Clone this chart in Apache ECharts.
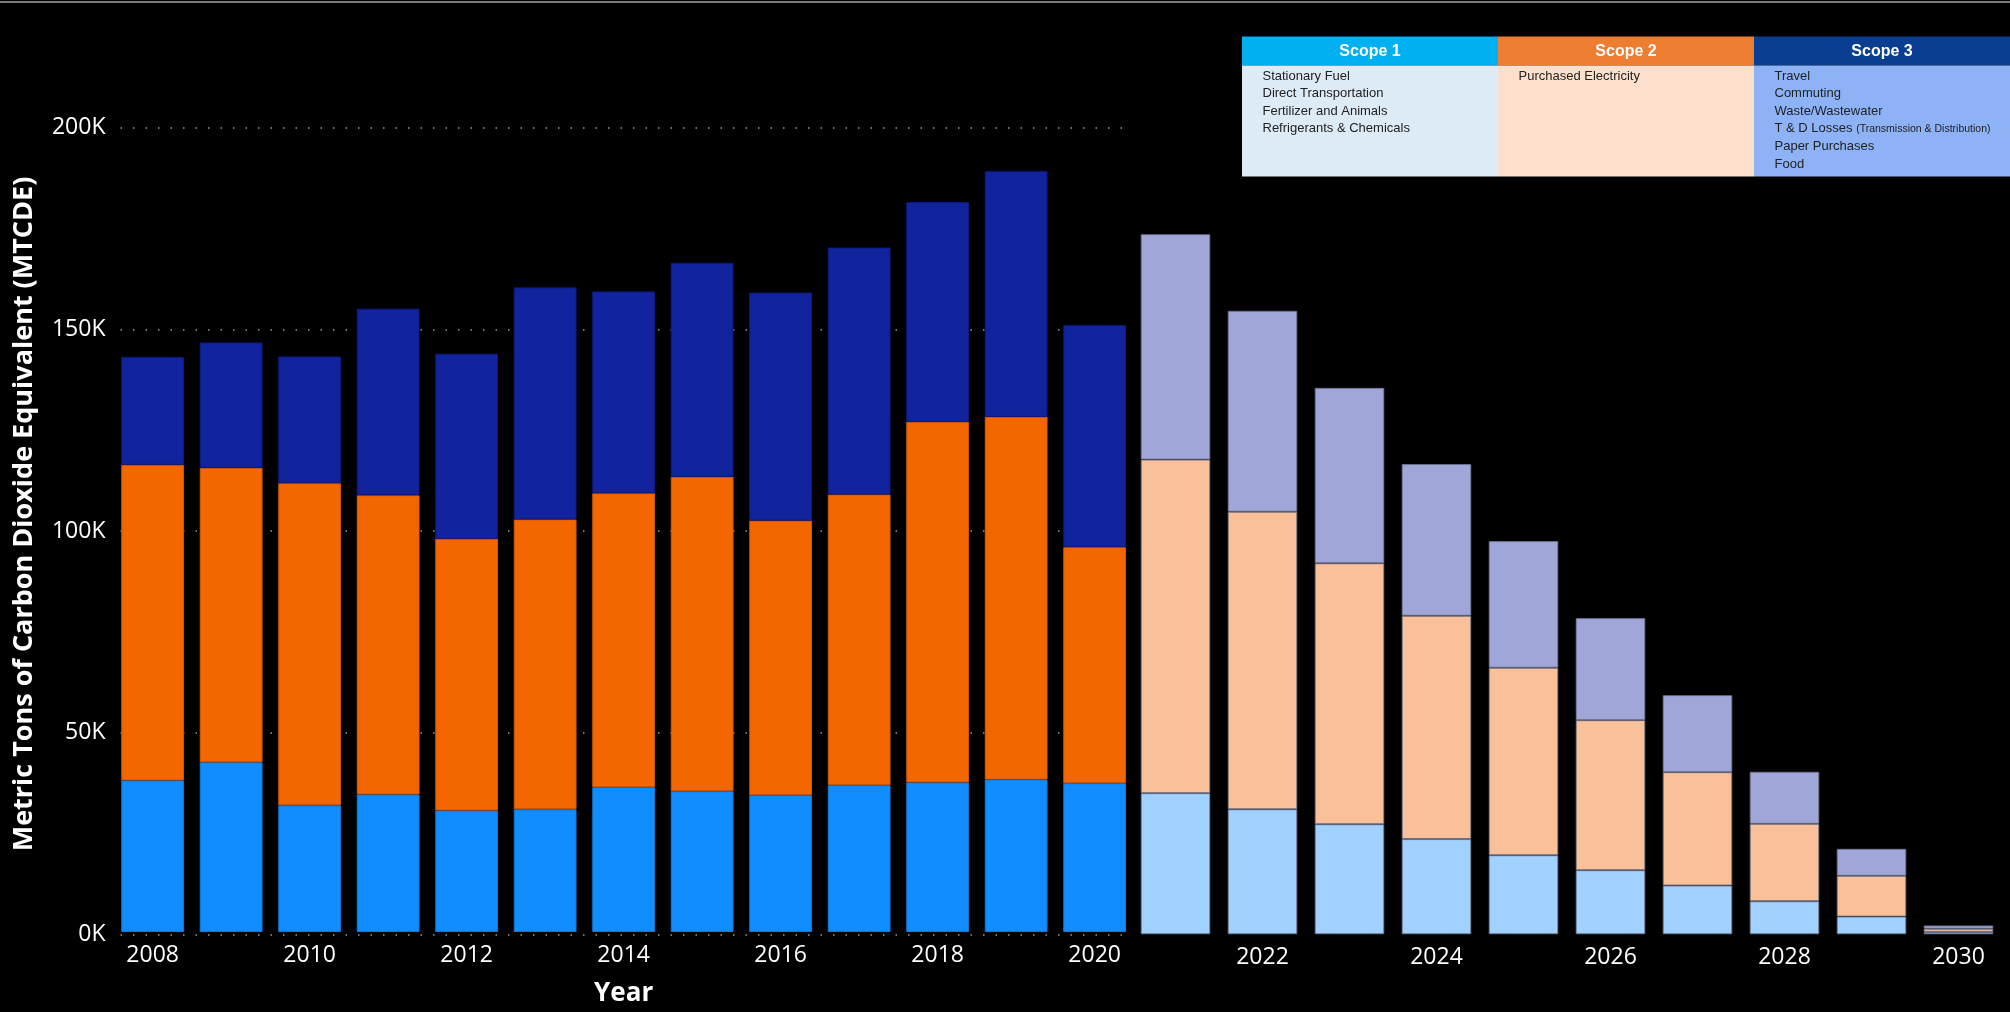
<!DOCTYPE html>
<html>
<head>
<meta charset="utf-8">
<script src="https://cdn.jsdelivr.net/npm/echarts@6/dist/echarts.min.js"></script>
<style>
html,body{margin:0;padding:0;background:#000;}
#chart{width:2010px;height:1012px;}
</style>
</head>
<body>
<div id="chart"></div>
<script>
// ---- data (thousand metric tons CO2e) ----
const yearsHist = ['2008','2009','2010','2011','2012','2013','2014','2015','2016','2017','2018','2019','2020'];
const scope1Hist = [37.7, 42.2, 31.5, 34.2, 30.2, 30.5, 36.0, 35.0, 34.0, 36.5, 37.2, 37.9, 37.0];
const scope2Hist = [78.5, 73.2, 80.1, 74.4, 67.6, 72.1, 73.1, 78.2, 68.3, 72.3, 89.7, 90.2, 58.7];
const scope3Hist = [26.8, 31.2, 31.5, 46.4, 46.0, 57.7, 50.2, 53.2, 56.7, 61.4, 54.6, 61.1, 55.2];

const yearsProj = ['2021','2022','2023','2024','2025','2026','2027','2028','2029','2030'];
const scope1Proj = [35.0, 31.0, 27.3, 23.6, 19.6, 15.9, 12.1, 8.2, 4.4, 0.6];
const scope2Proj = [82.7, 73.8, 64.7, 55.4, 46.5, 37.2, 28.1, 19.2, 10.1, 0.8];
const scope3Proj = [55.9, 49.8, 43.5, 37.6, 31.4, 25.3, 19.1, 12.9, 6.7, 0.8];

const yTicks = [0, 50, 100, 150, 200];

const legendHeaders = ['Scope 1', 'Scope 2', 'Scope 3'];
const legendItems = [
  ['Stationary Fuel', 'Direct Transportation', 'Fertilizer and Animals', 'Refrigerants & Chemicals'],
  ['Purchased Electricity'],
  ['Travel', 'Commuting', 'Waste/Wastewater', 'T & D Losses {s|(Transmission & Distribution)}', 'Paper Purchases', 'Food']
];

// ---- styles ----
const FONT = "'Open Sans', 'Noto Sans', sans-serif";
const histColors = ['#118DFF', '#F46600', '#12239E'];
const histBorders = ['#0f7ad6', '#cf5a08', '#0d1a80'];
const projColors = ['#A0D1FF', '#FAC09A', '#A0A7D8'];
const projBorder = 'rgba(110,115,140,0.85)';
const legHeadColors = ['#00B0F0', '#ED7D31', '#0A3E91'];
const legBodyColors = ['#DDEBF7', '#FDE0CC', '#8DB3F6'];

const chart = echarts.init(document.getElementById('chart'));

const gridTop = 127.7, gridBottom = 77.7;

function mkSeries(name, data, xi, stack, color, border) {
  return {
    name, type: 'bar', stack, data,
    xAxisIndex: xi, yAxisIndex: xi,
    barCategoryGap: '20%',
    itemStyle: { color, borderColor: border, borderWidth: 1 },
    emphasis: { disabled: true }
  };
}

// legend table graphic
const legX = 1242, legY = 36.5, colW = 256, headH = 29, bodyH = 111;
const legendGraphics = [];
for (let c = 0; c < 3; c++) {
  const x0 = legX + c * colW;
  legendGraphics.push({ type: 'rect', shape: { x: x0, y: legY, width: colW, height: headH }, style: { fill: legHeadColors[c] } });
  legendGraphics.push({ type: 'rect', shape: { x: x0, y: legY + headH, width: colW, height: bodyH }, style: { fill: legBodyColors[c] } });
  legendGraphics.push({ type: 'text', x: x0 + colW / 2, y: legY + headH / 2 + 1,
    style: { text: legendHeaders[c], fill: '#fff', font: "bold 16px 'Liberation Sans', Arial, sans-serif", align: 'center', verticalAlign: 'middle' } });
  legendItems[c].forEach((t, i) => {
    legendGraphics.push({ type: 'text', x: x0 + 20.5, y: legY + headH + 10.5 + i * 17.6,
      style: { text: t, fill: '#222', font: "13px 'Liberation Sans', Arial, sans-serif", verticalAlign: 'middle',
        rich: { s: { fontSize: 10.5, fontFamily: "'Liberation Sans', Arial, sans-serif", fill: '#222' } } } });
  });
}

const option = {
  backgroundColor: '#000',
  animation: false,
  grid: [
    { left: 120.5, right: 2010 - 1125.5, top: gridTop, bottom: gridBottom },
    { left: 113.4, right: 2010 - 1133.9, top: gridTop, bottom: gridBottom },
    { left: 1132, right: 8, top: gridTop, bottom: gridBottom }
  ],
  xAxis: [
    { gridIndex: 0, type: 'category', data: yearsHist, show: false },
    { gridIndex: 1, type: 'category', data: yearsHist,
      axisLine: { show: false }, axisTick: { show: false },
      axisLabel: { color: '#fff', fontFamily: FONT, fontSize: 23, margin: 12, interval: (i) => i % 2 === 0 },
      name: 'Year', nameLocation: 'middle', nameGap: 49,
      nameTextStyle: { color: '#fff', fontFamily: FONT, fontSize: 26, fontWeight: 'bold' } },
    { gridIndex: 2, type: 'category', data: yearsProj,
      axisLine: { show: false }, axisTick: { show: false },
      axisLabel: { color: '#fff', fontFamily: FONT, fontSize: 23, margin: 12, interval: (i) => i % 2 === 1 } }
  ],
  yAxis: [
    { gridIndex: 0, type: 'value', min: 0, max: 200, interval: 50,
      axisLine: { show: false }, axisTick: { show: false },
      axisLabel: { color: '#fff', fontFamily: FONT, fontSize: 23, margin: 15,
        formatter: (v) => yTicks.includes(v) ? v + 'K' : '' },
      splitLine: { show: true, lineStyle: { color: '#9a9a9a', width: 1.5, type: [1.5, 11] } } },
    { gridIndex: 1, type: 'value', min: 0, max: 200, interval: 50, show: false, splitLine: { show: false } },
    { gridIndex: 2, type: 'value', min: 0, max: 200, interval: 50, show: false, splitLine: { show: false } }
  ],
  series: [
    mkSeries('Scope 1', scope1Hist, 1, 'hist', histColors[0], histBorders[0]),
    mkSeries('Scope 2', scope2Hist, 1, 'hist', histColors[1], histBorders[1]),
    mkSeries('Scope 3', scope3Hist, 1, 'hist', histColors[2], histBorders[2]),
    mkSeries('Scope 1 (projected)', scope1Proj, 2, 'proj', projColors[0], projBorder),
    mkSeries('Scope 2 (projected)', scope2Proj, 2, 'proj', projColors[1], projBorder),
    mkSeries('Scope 3 (projected)', scope3Proj, 2, 'proj', projColors[2], projBorder)
  ],
  graphic: [
    { type: 'rect', shape: { x: 0, y: 1, width: 2010, height: 2 }, style: { fill: '#7a7a7a' } },
    { type: 'text', x: 24, y: 514, rotation: Math.PI / 2,
      style: { text: 'Metric Tons of Carbon Dioxide Equivalent (MTCDE)', fill: '#fff',
        font: "bold 27px 'Open Sans', 'Noto Sans', sans-serif", align: 'center', verticalAlign: 'middle' } },
    ...legendGraphics
  ]
};
chart.setOption(option);
</script>
</body>
</html>
